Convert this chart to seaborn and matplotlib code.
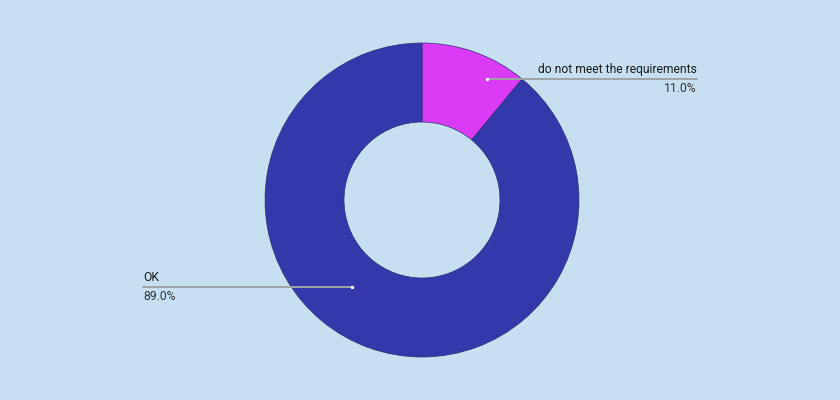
import numpy as np
import matplotlib
matplotlib.use("Agg")
import matplotlib.pyplot as plt
import seaborn as sns

# data
labels = ["do not meet the requirements", "OK"]
shares = [11.0, 89.0]
colors = ["#dc3bf6", "#3339ab"]

sns.set_theme(style="white")
plt.rcParams['font.family'] = ['Roboto', 'DejaVu Sans']

bg = "#c6e0f1"
fig = plt.figure(figsize=(8.4, 4.0), dpi=100, facecolor=bg)
ax = fig.add_axes([0, 0, 1, 1])
ax.set_facecolor(bg)

cx, cy, r_out = 422, 200, 157
wedges, _ = ax.pie(shares, colors=sns.color_palette(colors), startangle=90, counterclock=False,
                   center=(cx, cy), radius=r_out, frame=True,
                   wedgeprops=dict(width=79, edgecolor="#2a2f6e", linewidth=0.5))
ax.set_xlim(0, 840)
ax.set_ylim(0, 400)
ax.set_aspect("equal")
ax.axis("off")

# callouts: dot position (pixel coords, y from top), line end, text alignment
callouts = [
    dict(dot=(487, 79), end=697, ha="right"),
    dict(dot=(352, 287), end=143, ha="left"),
]
for lab, val, c in zip(labels, shares, callouts):
    dx, dy = c["dot"]
    y = 400 - dy
    ax.plot([dx, c["end"]], [y, y], color="#9ea3a8", lw=1.4, zorder=3)
    ax.scatter([dx], [y], s=6, color="white", zorder=4, linewidths=0)
    ax.text(c["end"], y + 3, lab, ha=c["ha"], va="bottom", fontsize=8.7, color="#1a1a1a")
    ax.text(c["end"], y - 3, f"{val:.1f}%", ha=c["ha"], va="top", fontsize=8.7, color="#333333")

fig.savefig("out.png", dpi=100, facecolor=bg)
